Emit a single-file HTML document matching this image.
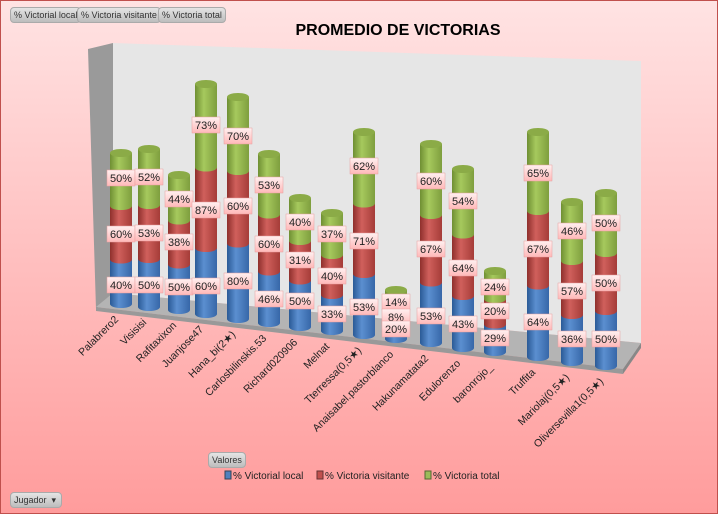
<!DOCTYPE html>
<html><head><meta charset="utf-8"><style>
body{margin:0;width:718px;height:514px;overflow:hidden;font-family:"Liberation Sans",sans-serif}
#c{position:absolute;left:0;top:0;width:716px;height:512px;border:1px solid #c0504d;background:linear-gradient(#ffe3e3,#ff9c9c)}
.btn{position:absolute;top:6px;height:14px;font-size:9px;line-height:14px;color:#333;background:linear-gradient(#e4e4e4,#bdbdbd);border:1px solid #aaa;border-radius:4px;padding:0 3px}
</style></head><body><div id="c">
<div class="btn" style="left:9px">% Victorial local</div>
<div class="btn" style="left:76px">% Victoria visitante</div>
<div class="btn" style="left:157px">% Victoria total</div>
<div class="btn" style="left:207px;top:451px">Valores</div>
<div class="btn" style="left:9px;top:491px;width:44px">Jugador &nbsp;▾</div>
<svg id="s" width="716" height="512" style="position:absolute;left:0;top:0"></svg>
</div>
<script>
var d=[["Palabrero2",120,152,177,233,284,303,"50%","60%","40%"],
["Visisisi",148,148,176,232,284,306,"52%","53%","50%"],
["Rafitaxixon",178,174,198,241,286,309,"44%","38%","50%"],
["Juanjose47",205,83,124,209,285,313,"73%","87%","60%"],
["Hana_bi(2★)",237,96,135,205,280,318,"70%","60%","80%"],
["Carlosbilinskis.53",268,153,184,243,298,322,"53%","60%","46%"],
["Richard020906",299,197,221,259,300,326,"40%","31%","50%"],
["Melnat",331,212,233,275,313,330,"37%","40%","33%"],
["Tterressa(0,5★)",363,131,165,240,306,334,"62%","71%","53%"],
["Anaisabel.pastorblanco",395,289,301,316,328,338,"14%","8%","20%"],
["Hakunamatata2",430,143,180,248,315,342,"60%","67%","53%"],
["Edulorenzo",462,168,200,267,323,347,"54%","64%","43%"],
["baronrojo_",494,270,286,310,337,351,"24%","20%","29%"],
["Truffita",537,131,172,248,321,356,"65%","67%","64%"],
["Mariolaj(0,5★)",571,201,230,290,338,361,"46%","57%","36%"],
["Oliversevilla1(0,5★)",605,192,222,282,338,365,"50%","50%","50%"]];
var h='<defs>';
[["g","#6f8f33","#a6c95d","#7e9e3e"],["r","#8e2f2c","#d0605c","#a53c38"],["b","#2a5a96","#5b8fd0","#3767a8"]].forEach(function(c){h+='<linearGradient id="'+c[0]+'"><stop offset="0" stop-color="'+c[1]+'"/><stop offset=".4" stop-color="'+c[2]+'"/><stop offset="1" stop-color="'+c[3]+'"/></linearGradient>';});
h+='<linearGradient id="lb" x1="0" y1="0" x2="0" y2="1"><stop offset="0" stop-color="#fff0f0"/><stop offset="1" stop-color="#ffb8b8"/></linearGradient></defs>';
h+='<text x="397" y="34" text-anchor="middle" font-size="16" font-weight="bold" fill="#000">PROMEDIO DE VICTORIAS</text>';
h+='<polygon points="112,42 640,60 640,342 112,292" fill="#e6e6e6"/>';
h+='<polygon points="87,48 112,42 112,292 95,308" fill="#9a9a9a"/>';
h+='<polygon points="112,292 640,342 622,368 95,306" fill="#b4b4b4"/>';
h+='<polygon points="95,306 622,368 622,373 95,310" fill="#999"/>';
h+='<polygon points="622,368 640,342 640,347 622,373" fill="#888"/>';
var w=11,ry=4;
function seg(x,t,b,f){return '<path d="M'+(x-w)+','+t+' L'+(x-w)+','+b+' A'+w+','+ry+' 0 0 0 '+(x+w)+','+b+' L'+(x+w)+','+t+' Z" fill="url(#'+f+')"/>';}
function lab(x,y,t){return '<rect x="'+(x-14)+'" y="'+(y-8)+'" width="28" height="16" fill="url(#lb)" stroke="#e8a0a0" stroke-width=".5"/><text x="'+x+'" y="'+(y+4)+'" text-anchor="middle" font-size="11" fill="#222">'+t+'</text>';}
d.forEach(function(r){var x=r[1],gr=(r[3]+r[4])/2,rb=(r[4]+r[5])/2;
h+=seg(x,rb,r[6],"b")+seg(x,gr,rb,"r")+seg(x,r[2],gr,"g");
h+='<ellipse cx="'+x+'" cy="'+r[2]+'" rx="'+w+'" ry="'+ry+'" fill="#8bab47"/>';
h+=lab(x,r[3],r[7])+lab(x,r[4],r[8])+lab(x,r[5],r[9]);
h+='<text transform="translate('+(x-2)+','+(r[6]+16)+') rotate(-45)" text-anchor="end" font-size="10.5" fill="#222">'+r[0]+'</text>';});
h+='<rect x="224" y="470" width="6" height="8" fill="#4f81bd" stroke="#345"/><text x="232" y="478" font-size="10" fill="#222">% Victorial local</text>';
h+='<rect x="316" y="470" width="6" height="8" fill="#c0504d" stroke="#633"/><text x="324" y="478" font-size="10" fill="#222">% Victoria visitante</text>';
h+='<rect x="424" y="470" width="6" height="8" fill="#9bbb59" stroke="#563"/><text x="432" y="478" font-size="10" fill="#222">% Victoria total</text>';
document.getElementById('s').innerHTML=h;
</script></body></html>
